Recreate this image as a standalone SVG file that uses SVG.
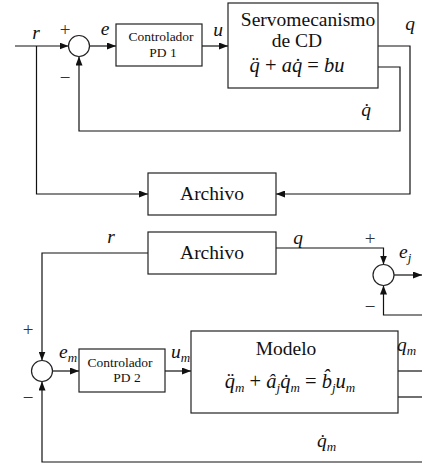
<svg xmlns="http://www.w3.org/2000/svg" width="422" height="465" viewBox="0 0 422 465" font-family="Liberation Serif, DejaVu Serif, serif">
<style>
.box{fill:#fff;stroke:#222;stroke-width:1.2}
.sum{fill:#fff;stroke:#222;stroke-width:1.2}
.ln{fill:none;stroke:#111;stroke-width:1.2}
.arr{marker-end:url(#ah)}
text{fill:#111}
.rm{font-size:19.5px}
.sm{font-size:13.5px}
.it{font-size:19.5px;font-style:italic}
.eq{font-size:20.5px;font-style:italic}
.up{font-style:normal}
.sub{font-size:13px}
.sg{font-size:19px;fill:#333}
</style>
<defs>
<marker id="ah" markerUnits="userSpaceOnUse" markerWidth="9" markerHeight="7" refX="9" refY="3.5" orient="auto">
<path d="M0,0 L9,3.5 L0,7 z" fill="#111"/>
</marker>
</defs>

<g id="connectors">
<path class="ln arr" d="M15,46 H68.5"/>
<path class="ln arr" d="M36.5,46 V194 H148"/>
<path class="ln arr" d="M89.5,46 H116"/>
<path class="ln arr" d="M202,46 H228"/>
<path class="ln arr" d="M378,46 H410 V194 H276"/>
<path class="ln arr" d="M378,67 H400 V131 H79 V56.5"/>
<path class="ln arr" d="M148,253 H42 V360.5"/>
<path class="ln arr" d="M52.5,371 H79"/>
<path class="ln arr" d="M165,371 H191"/>
<path class="ln" d="M398,371 H422"/>
<path class="ln" d="M398,397 H422"/>
<path class="ln arr" d="M422,462 H42 V381.5"/>
<path class="ln arr" d="M276,248 H383.5 V264.5"/>
<path class="ln arr" d="M394,275 H422"/>
<path class="ln arr" d="M422,315 H383.5 V285.5"/>
</g>

<g id="sum1"><circle class="sum" cx="79" cy="46" r="10.5"/></g>
<g id="pd1">
<rect class="box" x="116" y="24" width="86" height="42"/>
<text class="sm" x="161" y="41" text-anchor="middle">Controlador</text>
<text class="sm" x="163" y="57" text-anchor="middle">PD 1</text>
</g>
<g id="servo">
<rect class="box" x="228" y="3" width="150" height="85"/>
<text class="rm" x="308" y="26" text-anchor="middle" font-size="18.3">Servomecanismo</text>
<text class="rm" x="297" y="47" text-anchor="middle">de CD</text>
<text class="eq" x="297" y="72" text-anchor="middle">q&#776; <tspan class="up">+</tspan> aq&#775; <tspan class="up">=</tspan> bu</text>
</g>
<g id="archivo1">
<rect class="box" x="148" y="173" width="128" height="42"/>
<text class="rm" x="212" y="200" text-anchor="middle">Archivo</text>
</g>
<g id="archivo2">
<rect class="box" x="148" y="232" width="128" height="42"/>
<text class="rm" x="212" y="259" text-anchor="middle">Archivo</text>
</g>
<g id="sum2"><circle class="sum" cx="383.5" cy="275" r="10.5"/></g>
<g id="sum3"><circle class="sum" cx="42" cy="371" r="10.5"/></g>
<g id="pd2">
<rect class="box" x="79" y="349" width="86" height="43"/>
<text class="sm" x="120" y="367" text-anchor="middle">Controlador</text>
<text class="sm" x="127" y="382" text-anchor="middle">PD 2</text>
</g>
<g id="modelo">
<rect class="box" x="191" y="331" width="207" height="82"/>
<text class="rm" x="286" y="355" text-anchor="middle">Modelo</text>
<text class="eq" x="290" y="388" text-anchor="middle">q&#776;<tspan class="sub" dy="4">m</tspan><tspan dy="-4"> </tspan><tspan class="up">+</tspan> &#226;<tspan class="sub" dy="4">j</tspan><tspan dy="-4">q&#775;</tspan><tspan class="sub" dy="4">m</tspan><tspan dy="-4"> </tspan><tspan class="up">=</tspan> b&#770;<tspan class="sub" dy="4">j</tspan><tspan dy="-4">u</tspan><tspan class="sub" dy="4">m</tspan></text>
</g>

<g id="labels">
<text class="it" x="36" y="39" text-anchor="middle">r</text>
<text class="sg" x="65" y="36" text-anchor="middle">+</text>
<text class="sg" x="65" y="84" text-anchor="middle">−</text>
<text class="it" x="105" y="35" text-anchor="middle">e</text>
<text class="it" x="218" y="36" text-anchor="middle">u</text>
<text class="it" x="410" y="30" text-anchor="middle">q</text>
<text class="it" x="366" y="116" text-anchor="middle">q&#775;</text>
<text class="it" x="111" y="243" text-anchor="middle">r</text>
<text class="it" x="298" y="244" text-anchor="middle">q</text>
<text class="sg" x="370" y="245" text-anchor="middle">+</text>
<text class="sg" x="370" y="313" text-anchor="middle">−</text>
<text class="it" x="399" y="258">e<tspan class="sub" dy="4">j</tspan></text>
<text class="sg" x="28" y="336" text-anchor="middle">+</text>
<text class="sg" x="28" y="404" text-anchor="middle">−</text>
<text class="it" x="59" y="358">e<tspan class="sub" dy="4">m</tspan></text>
<text class="it" x="171" y="358">u<tspan class="sub" dy="4">m</tspan></text>
<text class="it" x="397" y="351">q<tspan class="sub" dy="4">m</tspan></text>
<text class="it" x="317" y="447">q&#775;<tspan class="sub" dy="4">m</tspan></text>
</g>
</svg>
